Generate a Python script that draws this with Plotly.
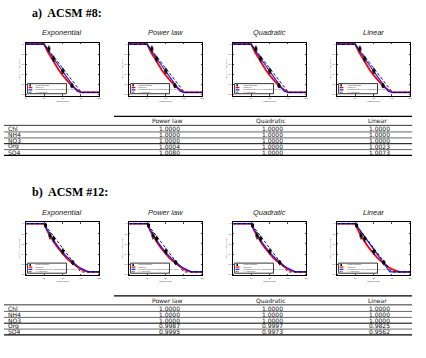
import plotly.graph_objects as go

W, H = 426, 358

# ---------------- data ----------------
models = ["Exponential", "Power law", "Quadratic", "Linear"]
panel_titles = ["a)  ACSM #8:", "b)  ACSM #12:"]
x_ticks = [0, 50, 100, 150, 200]
y_ticks = [0.0, 0.2, 0.4, 0.6, 0.8, 1.0]

x_grid = [0, 50, 60, 70, 80, 90, 100, 110, 120, 130, 140, 150, 160, 170, 200]

# ACSM #8
a_red = [1, 1, 0.85, 0.72, 0.60, 0.49, 0.39, 0.30, 0.22, 0.15, 0.09, 0.045, 0.045, 0.045, 0.045]
a_blue = [1, 1, 0.89, 0.78, 0.67, 0.57, 0.47, 0.37, 0.27, 0.17, 0.07, 0.045, 0.045, 0.045, 0.045]
a_dash_x = [0, 50, 152, 200]
a_dash_y = [1, 1, 0.045, 0.045]
a_pts_x = [63, 76, 101, 126]
a_pts_y = [0.91, 0.71, 0.47, 0.18]
a_pts_err = [0.05, 0.05, 0.05, 0.04]

# ACSM #12
b_red = [1, 1, 0.84, 0.71, 0.60, 0.50, 0.41, 0.33, 0.26, 0.20, 0.15, 0.10, 0.065, 0.045, 0.045]
b_blue = [1, 1, 0.86, 0.74, 0.63, 0.53, 0.44, 0.36, 0.29, 0.22, 0.17, 0.12, 0.08, 0.05, 0.045]
b_blue_lin_x = [0, 50, 145, 200]
b_blue_lin_y = [1, 1, 0.045, 0.045]
b_dash_x = [0, 50, 150, 200]
b_dash_y = [1, 1, 0.045, 0.045]
b_pts_x = [54, 66, 76, 101, 128]
b_pts_y = [0.97, 0.76, 0.70, 0.45, 0.23]
b_pts_err = [0.04, 0.06, 0.05, 0.05, 0.04]

legend_labels = ["Measurements", "Model fit", "Parameterised CE (Middlebrook et al., 2012)",
                 "1:1 reference"]

components = ["Chl", "NH4", "NO3", "Org", "SO4"]
table_cols = ["Power law", "Quadratic", "Linear"]
a_power = [1.0000, 1.0000, 1.0000, 1.0004, 1.0080]
a_quad = [1.0000, 1.0000, 1.0000, 1.0000, 1.0000]
a_lin = [1.0000, 1.0000, 1.0000, 1.0023, 1.0073]
b_power = [1.0000, 1.0000, 1.0000, 0.9987, 0.9995]
b_quad = [1.0000, 1.0000, 1.0000, 0.9997, 0.9973]
b_lin = [1.0000, 1.0000, 1.0000, 0.9825, 0.9562]

# ---------------- layout helpers ----------------
def px(x):
    return x / W

def py(y):
    return 1 - y / H

x0s = [25, 129, 234, 339]
pw, ph = 74, 53
row_off = [0, 180]
plot_top = 43

rows = [
    dict(red=a_red, blue_x=x_grid, blue=a_blue, dx=a_dash_x, dy=a_dash_y,
         px_=a_pts_x, py_=a_pts_y, pe=a_pts_err),
    dict(red=b_red, blue_x=x_grid, blue=b_blue, dx=b_dash_x, dy=b_dash_y,
         px_=b_pts_x, py_=b_pts_y, pe=b_pts_err),
]

fig = go.Figure()
shapes = []
annotations = []
layout_axes = {}

for r in range(2):
    d = rows[r]
    off = row_off[r]
    for c in range(4):
        k = r * 4 + c + 1
        sfx = "" if k == 1 else str(k)
        xa, ya = "x" + sfx, "y" + sfx
        blue_x, blue_y = d["blue_x"], d["blue"]
        if r == 1 and models[c] == "Linear":
            blue_x, blue_y = b_blue_lin_x, b_blue_lin_y
        fig.add_trace(go.Scatter(x=x_grid, y=d["red"], mode="lines",
                                 line=dict(color="#ff0000", width=1.8),
                                 xaxis=xa, yaxis=ya, showlegend=False))
        fig.add_trace(go.Scatter(x=blue_x, y=blue_y, mode="lines",
                                 line=dict(color="#1a1aff", width=1.2),
                                 xaxis=xa, yaxis=ya, showlegend=False))
        fig.add_trace(go.Scatter(x=d["dx"], y=d["dy"], mode="lines",
                                 line=dict(color="black", width=0.9, dash="3px,2px"),
                                 xaxis=xa, yaxis=ya, showlegend=False))
        fig.add_trace(go.Scatter(x=d["px_"], y=d["py_"], mode="markers",
                                 marker=dict(symbol="square", size=3, color="black"),
                                 error_y=dict(type="data", array=d["pe"], color="black",
                                              thickness=0.9, width=0.8),
                                 xaxis=xa, yaxis=ya, showlegend=False))
        top = plot_top + off
        layout_axes["xaxis" + sfx] = dict(
            domain=[px(x0s[c]), px(x0s[c] + pw)], anchor=ya, range=[0, 200],
            tickvals=x_ticks, ticks="inside", ticklen=1.5, tickwidth=0.5,
            showline=True, linecolor="black", linewidth=1, mirror="ticks",
            showgrid=False, zeroline=False, tickfont=dict(size=2, color="#333"),
            title=dict(text="Position (mm)", font=dict(size=2, color="#333"), standoff=1),
        )
        layout_axes["yaxis" + sfx] = dict(
            domain=[py(top + ph), py(top)], anchor=xa, range=[-0.02, 1.026],
            tickvals=y_ticks, tickformat=".1f", ticks="inside", ticklen=1.5, tickwidth=0.5,
            showline=True, linecolor="black", linewidth=1, mirror="ticks",
            showgrid=False, zeroline=False, tickfont=dict(size=2, color="#333"),
            title=dict(text="Fraction of Peak Signal", font=dict(size=2, color="#333"), standoff=1),
        )
        # subplot title
        annotations.append(dict(x=px(x0s[c] + pw / 2), y=py(33 + off), xref="paper", yref="paper",
                                text="<i>" + models[c] + "</i>", showarrow=False,
                                font=dict(size=7.5, color="#222", family="Liberation Sans"),
                                xanchor="center", yanchor="middle"))
        # legend box
        shapes.append(dict(type="rect", xref=xa, yref=ya, x0=5, x1=111, y0=0.02, y1=0.22,
                           line=dict(color="black", width=0.8), fillcolor="white", layer="above"))
        ly = [0.185, 0.14, 0.095, 0.05]
        lcol = ["black", "#ff0000", "#1a1aff", "black"]
        for i in range(4):
            if i == 0:
                shapes.append(dict(type="rect", xref=xa, yref=ya, x0=10, x1=14,
                                   y0=ly[i] - 0.02, y1=ly[i] + 0.02,
                                   fillcolor="black", line=dict(width=0), layer="above"))
            else:
                shapes.append(dict(type="line", xref=xa, yref=ya, x0=8, x1=18, y0=ly[i], y1=ly[i],
                                   line=dict(color=lcol[i], width=1.2 if i < 3 else 0.6,
                                             dash="solid" if i < 3 else "dot"),
                                   layer="above"))
            annotations.append(dict(x=21, y=ly[i], xref=xa, yref=ya, text=legend_labels[i],
                                    showarrow=False, xanchor="left", yanchor="middle",
                                    font=dict(size=2, color="#333")))

# ---------------- headings ----------------
for r in range(2):
    annotations.append(dict(x=px(29), y=py(12.7 + row_off[r]), xref="paper", yref="paper",
                            text="<b>" + panel_titles[r] + "</b>", showarrow=False,
                            xanchor="left", yanchor="middle",
                            font=dict(size=12, family="Liberation Serif", color="black")))

# ---------------- tables ----------------
table_data = [[a_power, a_quad, a_lin], [b_power, b_quad, b_lin]]
col_x = [168, 272, 380]
row_y0 = 129.3
row_step = 5.85
tfont = dict(size=6, family="DejaVu Sans", color="#111")
for r in range(2):
    off = row_off[r]
    # rules
    shapes.append(dict(type="line", xref="paper", yref="paper", x0=px(114), x1=px(415),
                       y0=py(116.7 + off), y1=py(116.7 + off), line=dict(color="black", width=1.2)))
    shapes.append(dict(type="line", xref="paper", yref="paper", x0=px(3), x1=px(415),
                       y0=py(125.7 + off), y1=py(125.7 + off), line=dict(color="black", width=0.8)))
    for yy, wd in [(132.3, 0.6), (138.3, 0.6), (144.1, 1.0), (150.0, 0.6), (155.8, 1.2)]:
        shapes.append(dict(type="line", xref="paper", yref="paper", x0=px(3), x1=px(415),
                           y0=py(yy + off), y1=py(yy + off), line=dict(color="black", width=wd)))
    for j, name in enumerate(table_cols):
        annotations.append(dict(x=px(col_x[j]), y=py(120.9 + off), xref="paper", yref="paper",
                                text=name, showarrow=False, xanchor="center", yanchor="middle",
                                font=tfont))
    for i, comp in enumerate(components):
        yy = row_y0 + i * row_step + off
        annotations.append(dict(x=px(6), y=py(yy), xref="paper", yref="paper", text=comp,
                                showarrow=False, xanchor="left", yanchor="middle", font=tfont,
                                borderpad=0))
        for j in range(3):
            annotations.append(dict(x=px(col_x[j] + 2), y=py(yy), xref="paper", yref="paper",
                                    text=f"{table_data[r][j][i]:.4f}", showarrow=False,
                                    xanchor="center", yanchor="middle", font=tfont,
                                    borderpad=0))

fig.update_layout(
    width=W, height=H, margin=dict(l=0, r=0, t=0, b=0),
    paper_bgcolor="white", plot_bgcolor="white",
    shapes=shapes, annotations=annotations, showlegend=False,
    **layout_axes,
)

fig.write_html("out.html", config={"displayModeBar": False},
               post_script="document.body.style.margin='0';document.body.style.overflow='hidden';")
